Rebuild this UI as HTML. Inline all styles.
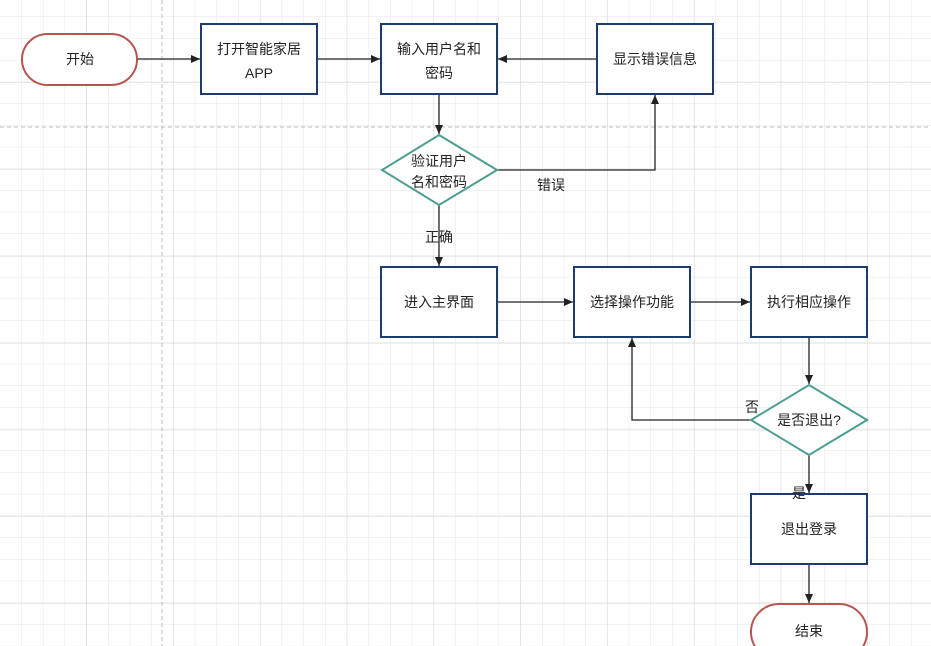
<!DOCTYPE html>
<html><head><meta charset="utf-8"><style>
html,body{margin:0;padding:0;background:#fff;}
svg{display:block;}
text{font-family:"Liberation Sans","Noto Sans CJK SC",sans-serif;font-size:14px;fill:#222;}
</style></head><body>
<svg width="931" height="646" viewBox="0 0 931 646" xmlns="http://www.w3.org/2000/svg">
<defs>
<pattern id="g" x="0" y="-4.7" width="21.7" height="21.7" patternUnits="userSpaceOnUse">
<path d="M21.7 0V21.7M0 21.7H21.7" stroke="#e6e6e6" stroke-width="1" fill="none"/>
</pattern>
<pattern id="G" x="0" y="-3.8" width="86.8" height="86.8" patternUnits="userSpaceOnUse">
<path d="M86.8 0V86.8M0 86.8H86.8" stroke="#d4d4d4" stroke-width="1" fill="none"/>
</pattern>
<marker id="a" markerWidth="10" markerHeight="10" refX="9" refY="5" orient="auto" markerUnits="userSpaceOnUse">
<path d="M0,1 L9,5 L0,9 Z" fill="#222"/>
</marker>
</defs>
<rect width="931" height="646" fill="url(#g)"/>
<rect width="931" height="646" fill="url(#G)"/>
<line x1="162" y1="0" x2="162" y2="646" stroke="#bbb" stroke-dasharray="4,3"/>
<line x1="0" y1="127" x2="931" y2="127" stroke="#bbb" stroke-dasharray="4,3"/>

<g stroke="#222" stroke-width="1.3" fill="none">
<line x1="137" y1="59" x2="200" y2="59" marker-end="url(#a)"/>
<line x1="317" y1="59" x2="380" y2="59" marker-end="url(#a)"/>
<line x1="597" y1="59" x2="498" y2="59" marker-end="url(#a)"/>
<line x1="439" y1="94" x2="439" y2="134" marker-end="url(#a)"/>
<polyline points="497,170 655,170 655,95" marker-end="url(#a)"/>
<line x1="439" y1="205" x2="439" y2="266" marker-end="url(#a)"/>
<line x1="497" y1="302" x2="573" y2="302" marker-end="url(#a)"/>
<line x1="690" y1="302" x2="750" y2="302" marker-end="url(#a)"/>
<line x1="809" y1="337" x2="809" y2="384" marker-end="url(#a)"/>
<polyline points="751,420 632,420 632,338" marker-end="url(#a)"/>
<line x1="809" y1="455" x2="809" y2="493" marker-end="url(#a)"/>
<line x1="809" y1="564" x2="809" y2="603" marker-end="url(#a)"/>
</g>

<g stroke="#b85450" stroke-width="2" fill="#fff">
<rect x="22" y="34" width="115" height="51" rx="25.5"/>
<rect x="751" y="604" width="116" height="56" rx="28"/>
</g>
<g stroke="#1f3a6e" stroke-width="2" fill="#fff">
<rect x="201" y="24" width="116" height="70"/>
<rect x="381" y="24" width="116" height="70"/>
<rect x="597" y="24" width="116" height="70"/>
<rect x="381" y="267" width="116" height="70"/>
<rect x="574" y="267" width="116" height="70"/>
<rect x="751" y="267" width="116" height="70"/>
<rect x="751" y="494" width="116" height="70"/>
</g>
<g stroke="#4a9e8f" stroke-width="2" fill="#fff">
<polygon points="439,135 497,170 439,205 382,170"/>
<polygon points="809,385 867,420 809,455 751,420"/>
</g>

<g text-anchor="middle">
<text x="80" y="64">开始</text>
<text x="259" y="54">打开智能家居</text>
<text x="259" y="78">APP</text>
<text x="439" y="54">输入用户名和</text>
<text x="439" y="78">密码</text>
<text x="655" y="64">显示错误信息</text>
<text x="439" y="166">验证用户</text>
<text x="439" y="187">名和密码</text>
<text x="551" y="190">错误</text>
<text x="439" y="242">正确</text>
<text x="439" y="307">进入主界面</text>
<text x="632" y="307">选择操作功能</text>
<text x="809" y="307">执行相应操作</text>
<text x="809" y="425">是否退出?</text>
<text x="752" y="412">否</text>
<text x="799" y="498">是</text>
<text x="809" y="534">退出登录</text>
<text x="809" y="636">结束</text>
</g>
</svg>
</body></html>
